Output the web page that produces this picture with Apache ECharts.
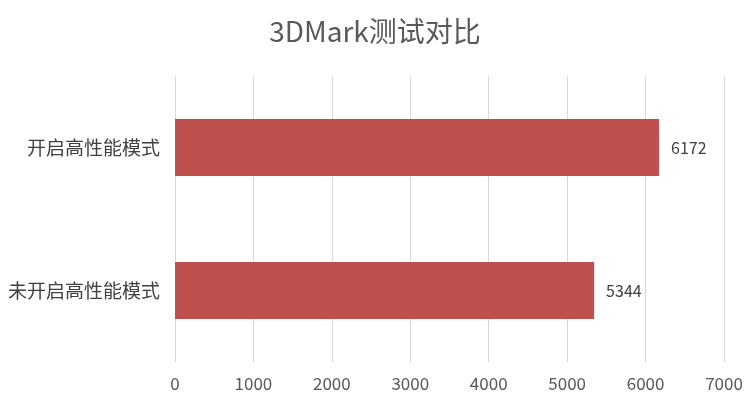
<!DOCTYPE html>
<html><head><meta charset="utf-8">
<script src="https://cdn.jsdelivr.net/npm/echarts@6/dist/echarts.min.js"></script>
<style>html,body{margin:0;padding:0;background:#fff}#c{width:750px;height:409px}</style>
</head><body><div id="c"></div>
<script>
const categories = ['未开启高性能模式', '开启高性能模式'];
const scores = [5344, 6172];
const axisMax = 7000;
const axisStep = 1000;

const chart = echarts.init(document.getElementById('c'));
chart.setOption({
  animation: false,
  backgroundColor: '#ffffff',
  title: {
    text: '3DMark测试对比', left: 'center', top: 12,
    textStyle: { fontFamily: 'Noto Sans CJK SC', fontSize: 28, fontWeight: 'normal', color: '#595959' }
  },
  grid: { left: 175, right: 26, top: 76, bottom: 47 },
  xAxis: {
    type: 'value', min: 0, max: axisMax, interval: axisStep,
    axisLine: { show: false }, axisTick: { show: false },
    splitLine: { lineStyle: { color: '#d9d9d9', width: 1 } },
    axisLabel: { margin: 13, fontFamily: 'Noto Sans CJK SC', fontSize: 17, color: '#595959',
      formatter: v => String(v) }
  },
  yAxis: {
    type: 'category', data: categories,
    axisLine: { show: false }, axisTick: { show: false },
    axisLabel: { margin: 15, fontFamily: 'Noto Sans CJK SC', fontSize: 19, color: '#404040' }
  },
  series: [{
    type: 'bar', data: scores, barWidth: '40%',
    itemStyle: { color: '#C0504D' },
    label: { show: true, position: 'right', distance: 12, fontFamily: 'Noto Sans CJK SC', fontSize: 16, color: '#404040' }
  }]
});
</script></body></html>
